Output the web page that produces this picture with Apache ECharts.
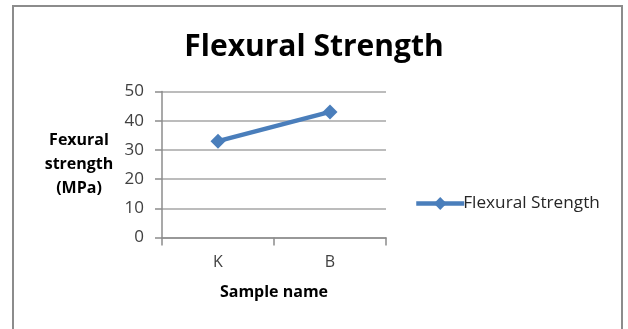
<!DOCTYPE html>
<html>
<head>
<meta charset="utf-8">
<script src="https://cdn.jsdelivr.net/npm/echarts@6/dist/echarts.min.js"></script>
<style>
  html, body { margin: 0; padding: 0; background: #ffffff; }
  #chart { width: 628px; height: 329px; }
</style>
</head>
<body>
<div id="chart"></div>
<script>
// Sample categories and measured flexural strength (MPa)
const categories = ['K', 'B'];
const strengthValues = [33, 43];
const seriesName = 'Flexural Strength';
const yTicks = { min: 0, max: 50, step: 10 };

const FONT = '"Open Sans", Lato, sans-serif';
const chart = echarts.init(document.getElementById('chart'), null, { renderer: 'canvas' });

chart.setOption({
  backgroundColor: '#ffffff',
  animation: false,
  title: {
    text: 'Flexural Strength',
    left: 'center',
    top: 27,
    textStyle: { fontFamily: FONT, fontSize: 30, fontWeight: 'bold', color: '#000000' }
  },
  graphic: [{
    type: 'rect',
    shape: { x: 13, y: 6, width: 609, height: 340 },
    style: { fill: 'none', stroke: '#8c8c8c', lineWidth: 2 },
    silent: true
  }],
  legend: {
    data: [seriesName],
    left: 409,
    top: 190,
    itemWidth: 48,
    itemHeight: 16,
    itemGap: 2,
    lineStyle: { width: 4.5 },
    textStyle: { fontFamily: FONT, fontSize: 17.2, color: '#262626', padding: [0, 0, 0, -6] }
  },
  grid: { left: 162, right: 242, top: 91.5, bottom: 91.5 },
  xAxis: {
    type: 'category',
    data: categories,
    boundaryGap: true,
    name: 'Sample name',
    nameLocation: 'middle',
    nameGap: 47,
    nameTextStyle: { fontFamily: FONT, fontSize: 16, fontWeight: 'bold', color: '#000000' },
    axisLine: { lineStyle: { color: '#8c8c8c', width: 1.5 } },
    axisTick: { show: true, length: 8, lineStyle: { color: '#8c8c8c', width: 1.5 } },
    axisLabel: { fontFamily: FONT, fontSize: 16, color: '#404040', margin: 17 }
  },
  yAxis: {
    type: 'value',
    min: yTicks.min,
    max: yTicks.max,
    interval: yTicks.step,
    name: 'Fexural\nstrength\n(MPa)',
    nameLocation: 'middle',
    nameRotate: 0,
    nameGap: 83,
    nameTextStyle: { fontFamily: FONT, fontSize: 16, fontWeight: 'bold', color: '#000000', lineHeight: 24, align: 'center' },
    axisLine: { show: true, lineStyle: { color: '#8c8c8c', width: 1.5 } },
    axisTick: { show: true, length: 7, lineStyle: { color: '#8c8c8c', width: 1.5 } },
    axisLabel: { fontFamily: FONT, fontSize: 17, color: '#404040', margin: 18 },
    splitLine: { show: true, lineStyle: { color: '#a6a6a6', width: 1.5 } }
  },
  series: [{
    name: seriesName,
    type: 'line',
    data: strengthValues,
    symbol: 'diamond',
    symbolSize: 15,
    lineStyle: { color: '#4a7ebb', width: 4.5 },
    itemStyle: { color: '#4a7ebb' }
  }]
});
</script>
</body>
</html>
